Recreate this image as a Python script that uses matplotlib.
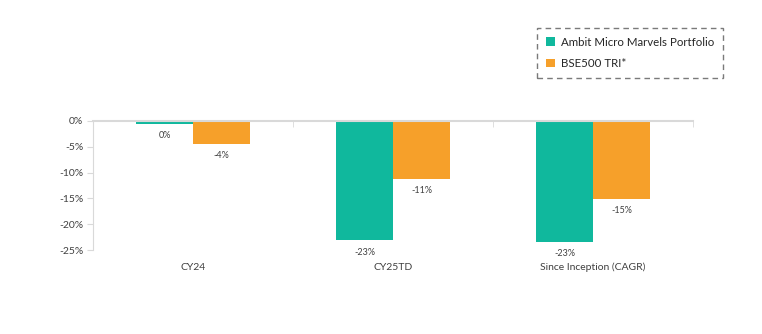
import matplotlib
matplotlib.use("Agg")
import matplotlib.pyplot as plt
import numpy as np

categories = ["CY24", "CY25TD", "Since Inception (CAGR)"]
portfolio = [-0.5, -23.1, -23.4]
benchmark = [-4.4, -11.2, -15.1]
portfolio_labels = ["0%", "-23%", "-23%"]
benchmark_labels = ["-4%", "-11%", "-15%"]
series_names = ["Ambit Micro Marvels Portfolio", "BSE500 TRI*"]
yticks = [0, -5, -10, -15, -20, -25]

plt.rcParams['font.family'] = ['Lato', 'DejaVu Sans']

teal = "#10B89D"
orange = "#F6A02A"
grid_gray = "#D9D9D9"
text_col = "#404040"

fig = plt.figure(figsize=(7.62, 3.34), dpi=100)
ax = fig.add_axes([93/762, 1-250/334, 600/762, 129/334])

x = np.arange(len(categories))
w = 0.285
b1 = ax.bar(x - w/2, portfolio, w, color=teal, label=series_names[0])
b2 = ax.bar(x + w/2, benchmark, w, color=orange, label=series_names[1])

for rects, labels in ((b1, portfolio_labels), (b2, benchmark_labels)):
    for r, lab in zip(rects, labels):
        ax.annotate(lab, (r.get_x() + r.get_width()/2, r.get_height()),
                    xytext=(0, -8.5), textcoords='offset points',
                    ha='center', va='center', fontsize=6.5, color=text_col)

ax.set_xlim(-0.5, len(categories) - 0.5)
ax.set_ylim(-25, 0)
ax.set_yticks(yticks)
ax.set_yticklabels([f"{v}%" for v in yticks], fontsize=7.5, color=text_col)
ax.set_xticks(x)
ax.set_xticklabels(categories, fontsize=7.5, color=text_col)
ax.set_xticks(np.arange(len(categories) + 1) - 0.5, minor=True)
ax.tick_params(axis='x', which='major', length=0, pad=9)
ax.tick_params(axis='x', which='minor', top=True, bottom=False, direction='in',
               length=4, color=grid_gray)
ax.tick_params(axis='y', length=4, color=grid_gray, pad=3)

for s in ('right', 'bottom'):
    ax.spines[s].set_visible(False)
ax.spines['top'].set_color(grid_gray)
ax.spines['top'].set_linewidth(1.5)
ax.spines['left'].set_color(grid_gray)

leg = ax.legend(loc='upper left', bbox_to_anchor=(537/762, 1-28/334),
                bbox_transform=fig.transFigure, fontsize=8.3,
                handlelength=0.8, handleheight=0.8, handletextpad=0.5,
                borderpad=0.75, labelspacing=0.9, borderaxespad=0,
                fancybox=False)
fr = leg.get_frame()
fr.set_linestyle((0, (4, 3)))
fr.set_edgecolor("#595959")
fr.set_linewidth(1.0)
for t in leg.get_texts():
    t.set_color("#262626")

fig.savefig("out.png", dpi=100)
